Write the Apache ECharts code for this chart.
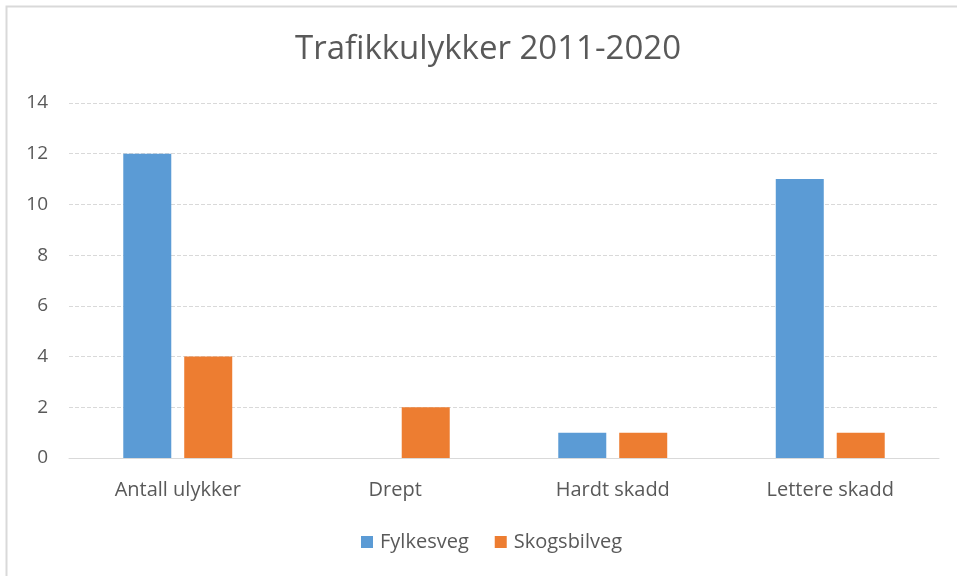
<!DOCTYPE html>
<html>
<head>
<meta charset="utf-8">
<script src="https://cdn.jsdelivr.net/npm/echarts@6/dist/echarts.min.js"></script>
<style>
  html, body { margin: 0; padding: 0; background: #fff; }
  #chart { width: 957px; height: 576px; }
</style>
</head>
<body>
<div id="chart"></div>
<script>
// data
var categories = ["Antall ulykker", "Drept", "Hardt skadd", "Lettere skadd"];
var fylkesveg = [12, 0, 1, 11];
var skogsbilveg = [4, 2, 1, 1];
var seriesNames = ["Fylkesveg", "Skogsbilveg"];

var textColor = "#595959";
var fontFamily = "'Open Sans', 'Noto Sans', sans-serif";

var chart = echarts.init(document.getElementById("chart"));
chart.setOption({
  animation: false,
  textStyle: { fontFamily: fontFamily },
  graphic: [
    {
      type: "rect",
      shape: { x: 6.5, y: 6.5, width: 1000, height: 1000 },
      style: { fill: "none", stroke: "#d9d9d9", lineWidth: 2 },
      silent: true
    }
  ],
  title: {
    text: "Trafikkulykker 2011-2020",
    left: 290,
    top: 28,
    textStyle: { color: textColor, fontSize: 33, fontWeight: "normal", fontFamily: fontFamily }
  },
  legend: {
    data: seriesNames,
    bottom: 19,
    left: 356,
    itemWidth: 12,
    itemHeight: 12,
    itemGap: 26,
    icon: "rect",
    textStyle: { color: textColor, fontSize: 20, fontFamily: fontFamily, padding: [0, 0, 0, 2] }
  },
  grid: {
    left: 69,
    right: 18,
    top: 103,
    bottom: 118
  },
  xAxis: {
    type: "category",
    data: categories,
    axisTick: { show: false },
    axisLine: { lineStyle: { color: "#d9d9d9" } },
    axisLabel: { color: textColor, fontSize: 20, margin: 22, fontFamily: fontFamily }
  },
  yAxis: {
    type: "value",
    min: 0,
    max: 14,
    interval: 2,
    axisLine: { show: false },
    axisTick: { show: false },
    axisLabel: { color: textColor, fontSize: 19, margin: 21, fontFamily: fontFamily },
    splitLine: { lineStyle: { color: "#d9d9d9", type: "dashed", width: 1 } }
  },
  series: [
    {
      name: seriesNames[0],
      type: "bar",
      data: fylkesveg,
      barWidth: 48,
      barGap: "27%",
      itemStyle: { color: "#5b9bd5" }
    },
    {
      name: seriesNames[1],
      type: "bar",
      data: skogsbilveg,
      barWidth: 48,
      itemStyle: { color: "#ed7d31" }
    }
  ]
});
</script>
</body>
</html>
